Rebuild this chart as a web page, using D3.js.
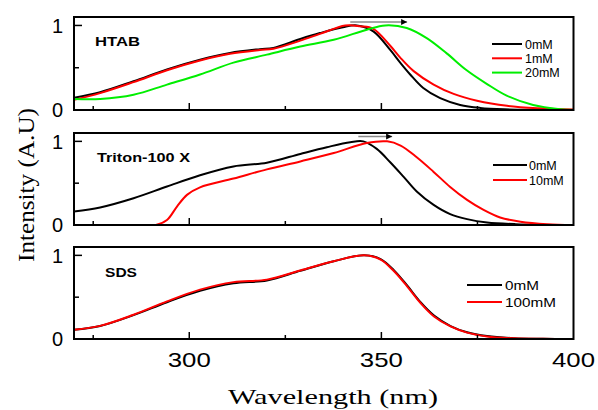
<!DOCTYPE html>
<html><head><meta charset="utf-8">
<script src="https://cdn.jsdelivr.net/npm/d3@7"></script>
<style>body{margin:0;background:#fff}svg{display:block}</style>
</head><body>
<script>
// ---- data ----
const xTicksMajor = [300, 350, 400];
const xTicksMinor = [275, 325, 375];
const yTickLabels = [0, 1];
const panelNames = ["HTAB", "Triton-100 X", "SDS"];

const htab0_x = [270, 276.8, 285.5, 294.2, 302.8, 310.6, 318.4, 321.9, 328.9, 334, 340, 343.6, 347.9, 352.3, 354.9, 357.5, 360.9, 365.3, 370.5, 375.7, 382, 390, 400];
const htab0_y = [0.146, 0.21, 0.34, 0.48, 0.595, 0.675, 0.72, 0.735, 0.84, 0.91, 0.98, 1.0, 0.93, 0.71, 0.56, 0.42, 0.26, 0.14, 0.06, 0.025, 0.008, 0.002, 0];
const htab1_x = [270, 276.8, 285.5, 294.2, 302.8, 310.6, 318.4, 321.9, 328.9, 334, 340.6, 344.5, 347.9, 352.3, 354.9, 358.4, 363.6, 368.8, 374.9, 382.7, 391.4, 400];
const htab1_y = [0.12, 0.2, 0.33, 0.47, 0.585, 0.665, 0.71, 0.725, 0.82, 0.9, 1.0, 0.99, 0.96, 0.76, 0.62, 0.46, 0.30, 0.19, 0.11, 0.05, 0.02, 0.005];
const htab20_x = [270, 276.8, 285.5, 294.2, 302.8, 311.5, 320.2, 328.9, 337.6, 346.2, 351, 356.6, 361.8, 367, 372.2, 377.4, 382.6, 389.5, 396.5, 400];
const htab20_y = [0.13, 0.13, 0.18, 0.30, 0.42, 0.56, 0.655, 0.75, 0.83, 0.95, 1.0, 0.97, 0.85, 0.67, 0.47, 0.31, 0.17, 0.06, 0.01, 0.0];

const tri0_x = [270, 276.8, 285.5, 294.2, 302.8, 311.5, 320.2, 328.9, 335.8, 341.9, 345.3, 348.8, 352.3, 355.8, 359.2, 363.6, 367.9, 372.3, 377.5, 385, 400];
const tri0_y = [0.16, 0.21, 0.32, 0.46, 0.595, 0.70, 0.745, 0.85, 0.93, 0.99, 1.0, 0.91, 0.75, 0.575, 0.40, 0.24, 0.13, 0.07, 0.03, 0.01, 0];
const tri10_x = [270, 280, 291.3, 294.2, 296.8, 299.4, 302.8, 311.5, 320.2, 328.9, 337.6, 346.2, 351.5, 355, 359.2, 363.6, 367.9, 372.3, 376.6, 380.9, 386.2, 393.1, 400];
const tri10_y = [0, 0, 0, 0.06, 0.22, 0.36, 0.45, 0.555, 0.665, 0.76, 0.86, 0.98, 1.0, 0.95, 0.81, 0.635, 0.455, 0.30, 0.18, 0.09, 0.04, 0.01, 0];

const sds_x = [270, 276.8, 285.5, 294.2, 302.8, 311.5, 320.2, 328.9, 337.6, 345.5, 349.8, 353.3, 356.7, 360.2, 363.7, 368, 372.3, 377.5, 384.5, 392, 400];
const sds0_y = [0.11, 0.155, 0.285, 0.44, 0.575, 0.665, 0.70, 0.815, 0.93, 1.0, 0.955, 0.82, 0.64, 0.44, 0.28, 0.155, 0.08, 0.035, 0.01, 0.003, 0];
const sds100_y = [0.11, 0.157, 0.29, 0.45, 0.59, 0.68, 0.71, 0.82, 0.93, 1.0, 0.95, 0.81, 0.63, 0.43, 0.27, 0.15, 0.076, 0.03, 0.008, 0.002, 0];

const legends = [["0mM", "1mM", "20mM"], ["0mM", "10mM"], ["0mM", "100mM"]];
const arrows = [[341.9, 356.7], [344, 352.8]];

// ---- layout ----
const W = 598, H = 410;
const svg = d3.select("body").append("svg").attr("width", W).attr("height", H);
const x = d3.scaleLinear().domain([270, 400]).range([74, 573.5]);
const panelTop = [17, 133, 247], panelBot = [110, 225, 339];
const colors = {k: "#000000", r: "#ff0000", g: "#00ee00"};

const series = [
  [{xs: htab0_x, ys: htab0_y, c: colors.k}, {xs: htab1_x, ys: htab1_y, c: colors.r}, {xs: htab20_x, ys: htab20_y, c: colors.g}],
  [{xs: tri0_x, ys: tri0_y, c: colors.k}, {xs: tri10_x, ys: tri10_y, c: colors.r}],
  [{xs: sds_x, ys: sds0_y, c: colors.k}, {xs: sds_x, ys: sds100_y, c: colors.r}]
];
const legendPos = [
  {x1: 492, x2: 522, tx: 525, y0: 44, dy: 14.3, fs: 12.5},
  {x1: 493, x2: 527, tx: 529, y0: 165, dy: 15, fs: 12.5},
  {x1: 467, x2: 502, tx: 505, y0: 285, dy: 17, fs: 12.5, stretch: 1.22}
];
const labelPos = [{x: 95, y: 46, w: 45}, {x: 97, y: 162, w: 93}, {x: 105, y: 277, w: 32}];

const defs = svg.append("defs");
defs.append("marker").attr("id", "ah").attr("viewBox", "0 0 10 10").attr("refX", 10).attr("refY", 5)
  .attr("markerWidth", 10).attr("markerHeight", 6).attr("markerUnits", "userSpaceOnUse").attr("orient", "auto")
  .append("path").attr("d", "M0,0L10,5L0,10Z").attr("fill", "#000");

for (let p = 0; p < 3; p++) {
  const y = d3.scaleLinear().domain([0, 1.1]).range([panelBot[p], panelTop[p]]);
  const g = svg.append("g");
  defs.append("clipPath").attr("id", "clip" + p).append("rect")
    .attr("x", x(270)).attr("y", panelTop[p]).attr("width", x(400) - x(270)).attr("height", panelBot[p] - panelTop[p]);

  const line = d3.line().x(d => x(d[0])).y(d => y(d[1])).curve(d3.curveCatmullRom.alpha(0.5));
  const cg = g.append("g").attr("clip-path", `url(#clip${p})`);
  series[p].forEach(s => {
    cg.append("path").datum(s.xs.map((v, i) => [v, s.ys[i]]))
      .attr("d", line).attr("fill", "none").attr("stroke", s.c).attr("stroke-width", 2);
  });

  // frame
  g.append("rect").attr("x", x(270)).attr("y", panelTop[p]).attr("width", x(400) - x(270))
    .attr("height", panelBot[p] - panelTop[p]).attr("fill", "none").attr("stroke", "#000").attr("stroke-width", 2);

  // x ticks (inward)
  xTicksMajor.filter(t => t < 400).forEach(t => g.append("line").attr("x1", x(t)).attr("x2", x(t))
    .attr("y1", panelBot[p]).attr("y2", panelBot[p] - 7).attr("stroke", "#000").attr("stroke-width", 1.5));
  xTicksMinor.forEach(t => g.append("line").attr("x1", x(t)).attr("x2", x(t))
    .attr("y1", panelBot[p]).attr("y2", panelBot[p] - 4).attr("stroke", "#000").attr("stroke-width", 1.5));
  // y ticks
  g.append("line").attr("x1", x(270)).attr("x2", x(270) + 8).attr("y1", y(1)).attr("y2", y(1)).attr("stroke", "#000").attr("stroke-width", 1.5);
  g.append("line").attr("x1", x(270)).attr("x2", x(270) + 5).attr("y1", y(0.5)).attr("y2", y(0.5)).attr("stroke", "#000").attr("stroke-width", 1.5);
  yTickLabels.forEach(t => g.append("text").attr("x", 63).attr("y", y(t)).attr("dy", "0.36em")
    .attr("text-anchor", "end").attr("font-family", "Liberation Sans, Arial, sans-serif").attr("font-size", 20).text(t));

  // panel label
  const lp = labelPos[p];
  g.append("text").attr("x", lp.x).attr("y", lp.y).attr("font-family", "Liberation Sans, Arial, sans-serif")
    .attr("font-weight", "bold").attr("font-size", 13).attr("textLength", lp.w).attr("lengthAdjust", "spacingAndGlyphs").text(panelNames[p]);

  // legend
  const L = legendPos[p];
  legends[p].forEach((name, i) => {
    const yy = L.y0 + i * L.dy;
    g.append("line").attr("x1", L.x1).attr("x2", L.x2).attr("y1", yy).attr("y2", yy)
      .attr("stroke", series[p][i].c).attr("stroke-width", 2);
    const t = g.append("text").attr("x", L.tx).attr("y", yy).attr("dy", "0.36em")
      .attr("font-family", "Liberation Sans, Arial, sans-serif").attr("font-size", L.fs).text(name);
    if (L.stretch) {
      const w = t.node().getComputedTextLength();
      t.attr("textLength", w * L.stretch).attr("lengthAdjust", "spacingAndGlyphs");
    }
  });

  // arrow
  if (arrows[p]) {
    const ay = p === 0 ? 22 : 136.5;
    g.append("line").attr("x1", x(arrows[p][0])).attr("x2", x(arrows[p][1])).attr("y1", ay).attr("y2", ay)
      .attr("stroke", "#888").attr("stroke-width", 1.5).attr("marker-end", "url(#ah)");
  }
}

// bottom x labels
xTicksMajor.forEach(t => svg.append("text").attr("x", x(t)).attr("y", 367).attr("text-anchor", "middle")
  .attr("font-family", "Liberation Sans, Arial, sans-serif").attr("font-size", 21)
  .attr("textLength", 43).attr("lengthAdjust", "spacingAndGlyphs").text(t));

// axis titles
svg.append("text").attr("x", 333).attr("y", 404).attr("text-anchor", "middle")
  .attr("font-family", "Liberation Serif, Times New Roman, serif").attr("font-size", 21)
  .attr("textLength", 210).attr("lengthAdjust", "spacingAndGlyphs").text("Wavelength (nm)");
svg.append("text").attr("transform", "translate(34,185) rotate(-90)").attr("text-anchor", "middle")
  .attr("font-family", "Liberation Serif, Times New Roman, serif").attr("font-size", 23)
  .attr("textLength", 154).attr("lengthAdjust", "spacingAndGlyphs").text("Intensity (A.U)");
</script>
</body></html>
